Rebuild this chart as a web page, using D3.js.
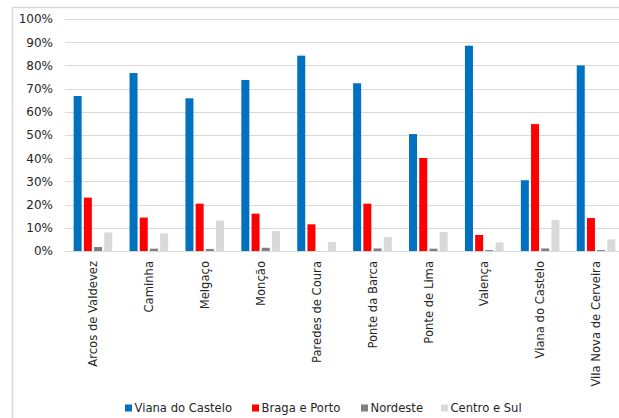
<!DOCTYPE html>
<html>
<head>
<meta charset="utf-8">
<script src="https://cdn.jsdelivr.net/npm/d3@7"></script>
<style>
  html, body { margin: 0; padding: 0; background: #fff; }
  svg { display: block; }
  text { font-family: "DejaVu Sans", Verdana, sans-serif; fill: #262626; }
</style>
</head>
<body>
<svg id="chart" width="619" height="418"></svg>
<script>
// Municipalities of the Alto Minho region
const categories = [
  "Arcos de Valdevez", "Caminha", "Melgaço", "Monção", "Paredes de Coura",
  "Ponte da Barca", "Ponte de Lima", "Valença", "Viana do Castelo", "Vila Nova de Cerveira"
];

// Share of each origin region, one array per series (fractions)
const seriesNames = ["Viana do Castelo", "Braga e Porto", "Nordeste", "Centro e Sul"];
const vianaDoCastelo = [0.668, 0.767, 0.658, 0.737, 0.842, 0.723, 0.504, 0.885, 0.305, 0.800];
const bragaEPorto    = [0.230, 0.144, 0.204, 0.161, 0.115, 0.204, 0.401, 0.069, 0.547, 0.142];
const nordeste       = [0.017, 0.010, 0.009, 0.014, 0.000, 0.011, 0.010, 0.004, 0.011, 0.004];
const centroESul     = [0.080, 0.076, 0.131, 0.086, 0.039, 0.060, 0.082, 0.037, 0.134, 0.050];
const seriesValues = [vianaDoCastelo, bragaEPorto, nordeste, centroESul];
const seriesColors = ["#0070c0", "#ff0000", "#808080", "#d9d9d9"];

const yTicks = [0, 0.1, 0.2, 0.3, 0.4, 0.5, 0.6, 0.7, 0.8, 0.9, 1.0];

const svg = d3.select("#chart");

// chart frame
svg.append("rect")
  .attr("x", 12.5).attr("y", 7.5)
  .attr("width", 700).attr("height", 600)
  .attr("fill", "none")
  .attr("stroke", "#d9d9d9")
  .attr("stroke-width", 1.5);

const plot = { left: 65, right: 624, top: 19, bottom: 251 };

const y = d3.scaleLinear().domain([0, 1]).range([plot.bottom, plot.top]);
const x0 = d3.scaleBand().domain(categories).range([plot.left, plot.right]).padding(0);
const innerW = 38.6;
const x1 = d3.scaleBand()
  .domain(d3.range(seriesNames.length))
  .range([(x0.bandwidth() - innerW) / 2, (x0.bandwidth() + innerW) / 2])
  .paddingInner(0.216)
  .paddingOuter(0);

// gridlines
svg.append("g")
  .selectAll("line")
  .data(yTicks)
  .join("line")
  .attr("x1", plot.left).attr("x2", plot.right)
  .attr("y1", d => Math.round(y(d)) + 0.5)
  .attr("y2", d => Math.round(y(d)) + 0.5)
  .attr("stroke", "#d9d9d9")
  .attr("stroke-width", 1.2);

// y-axis labels
svg.append("g")
  .selectAll("text")
  .data(yTicks)
  .join("text")
  .attr("x", 53)
  .attr("y", d => y(d))
  .attr("dy", "0.36em")
  .attr("text-anchor", "end")
  .attr("font-size", "12px")
  .text(d => d3.format(".0%")(d));

// bars
const groups = svg.append("g")
  .selectAll("g")
  .data(categories)
  .join("g")
  .attr("transform", d => `translate(${x0(d)},0)`);

groups.selectAll("rect")
  .data((d, i) => seriesValues.map((vals, s) => ({ s, v: vals[i] })))
  .join("rect")
  .attr("x", d => x1(d.s))
  .attr("width", x1.bandwidth())
  .attr("y", d => y(d.v))
  .attr("height", d => y(0) - y(d.v))
  .attr("fill", d => seriesColors[d.s]);

// category labels, rotated
svg.append("g")
  .selectAll("text")
  .data(categories)
  .join("text")
  .attr("transform", d => `translate(${x0(d) + x0.bandwidth() / 2},261) rotate(-90)`)
  .attr("dy", "0.36em")
  .attr("text-anchor", "end")
  .attr("font-size", "11.6px")
  .text(d => d);

// legend
const legendX = [125, 252, 361, 441];
const legend = svg.append("g")
  .selectAll("g")
  .data(seriesNames)
  .join("g")
  .attr("transform", (d, i) => `translate(${legendX[i]},408)`);

legend.append("rect")
  .attr("x", 0).attr("y", -3.5)
  .attr("width", 7).attr("height", 7)
  .attr("fill", (d, i) => seriesColors[i]);

legend.append("text")
  .attr("x", 9.5)
  .attr("dy", "0.36em")
  .attr("font-size", "11.6px")
  .text(d => d);
</script>
</body>
</html>
